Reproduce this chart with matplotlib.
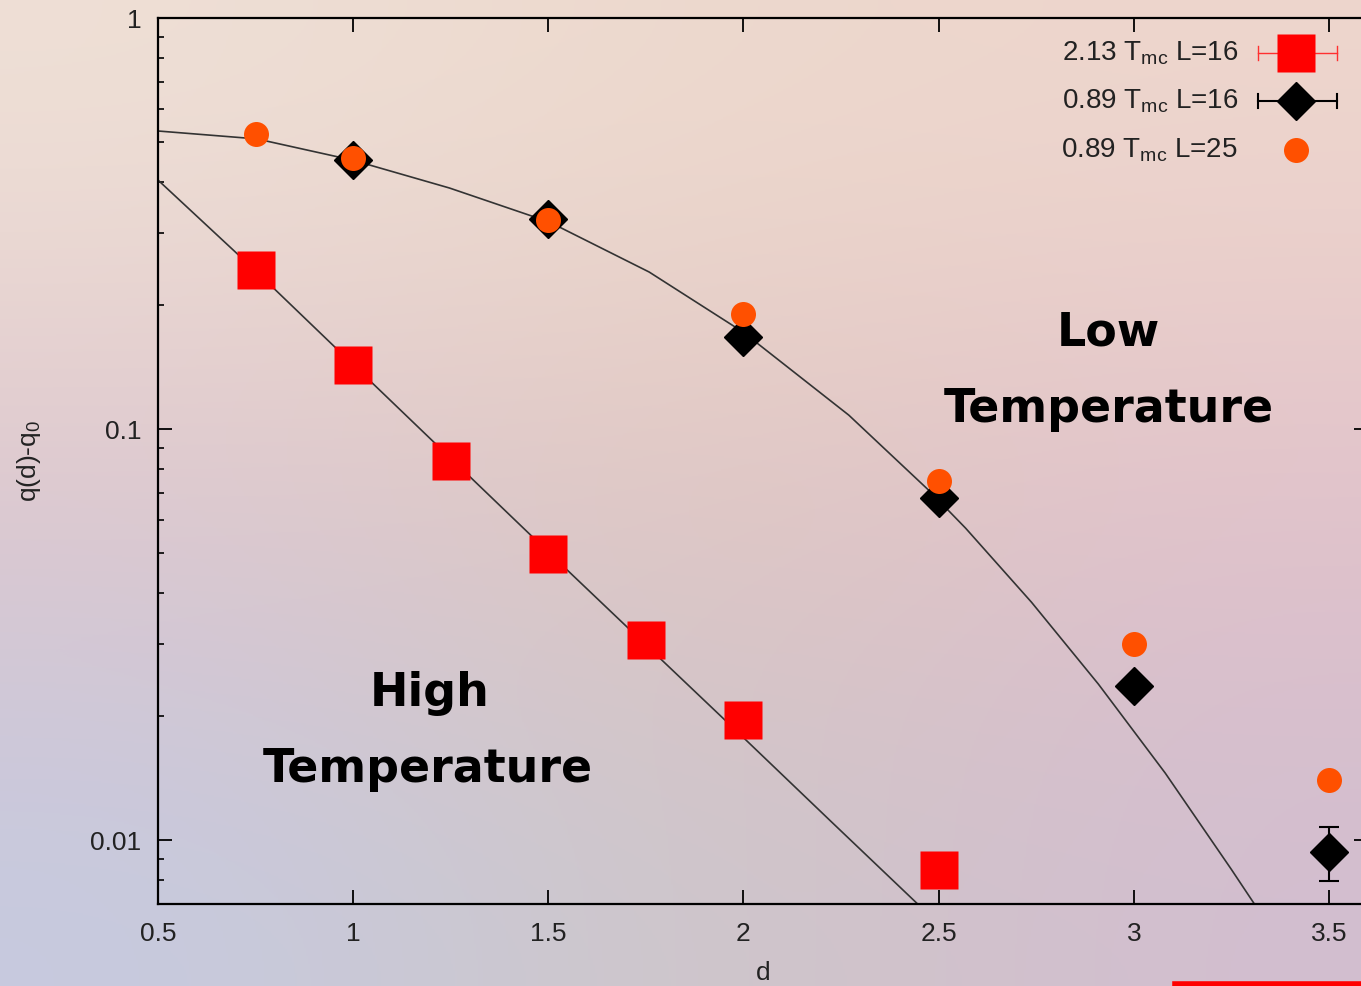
import numpy as np
import matplotlib
matplotlib.use('Agg')
import matplotlib.pyplot as plt
from matplotlib.lines import Line2D

plt.rcParams['font.family'] = ['Liberation Sans', 'DejaVu Sans']
plt.rcParams['mathtext.default'] = 'regular'

# data
d_high = [0.75, 1.0, 1.25, 1.5, 1.75, 2.0, 2.5]
q_high = [0.2437, 0.1431, 0.0836, 0.0496, 0.0307, 0.0196, 0.00845]

d_low16 = [1.0, 1.5, 2.0, 2.5, 3.0, 3.5]
q_low16 = [0.4514, 0.3243, 0.1674, 0.0679, 0.0237, 0.00935]
err_lo16 = [0, 0, 0, 0, 0, 0.00140]
err_hi16 = [0, 0, 0, 0, 0, 0.00140]

d_low25 = [0.75, 1.0, 1.5, 2.0, 2.5, 3.0, 3.5]
q_low25 = [0.522, 0.4564, 0.3225, 0.1905, 0.0747, 0.0300, 0.0140]

# fit curves
fit_high_d = [0.5, 0.7506, 1.0038, 1.252, 1.5, 1.7506, 2.0013, 2.226, 2.449]
fit_high_q = [0.4034, 0.2423, 0.1423, 0.0845, 0.0502, 0.0298, 0.0177, 0.01106, 0.00695]

fit_low_d = [0.5, 0.7532, 0.9987, 1.2468, 1.5026, 1.7583, 1.9987, 2.2698, 2.4744,
             2.569, 2.7379, 2.9092, 3.0806, 3.2494, 3.3107]
fit_low_q = [0.531, 0.508, 0.451, 0.3858, 0.3189, 0.2410, 0.1722, 0.1081, 0.0710,
             0.0574, 0.0379, 0.02396, 0.01455, 0.0085, 0.00695]

labels = ['2.13 T$_{mc}$ L=16', '0.89 T$_{mc}$ L=16', '0.89 T$_{mc}$ L=25']
x_ticks = [0.5, 1, 1.5, 2, 2.5, 3, 3.5]
x_ticklabels = ['0.5', '1', '1.5', '2', '2.5', '3', '3.5']
y_ticks = [0.01, 0.1, 1]
y_ticklabels = ['0.01', '0.1', '1']

W, H = 1361, 986
fig = plt.figure(figsize=(W / 100, H / 100), dpi=100)

# gradient background
bg = np.array([
    [[239, 224, 214], [237, 217, 205], [238, 214, 205]],
    [[222, 197, 205], [224, 198, 192], [226, 193, 202]],
    [[198, 202, 224], [206, 199, 199], [210, 190, 208]],
]) / 255.0
bg_ax = fig.add_axes([0, 0, 1, 1], zorder=-1)
bg_ax.imshow(bg, aspect='auto', interpolation='bicubic', extent=[0, 1, 0, 1])
bg_ax.axis('off')

left, right, top, bottom = 158, 1368, 18, 904
ax = fig.add_axes([left / W, (H - bottom) / H, (right - left) / W, (bottom - top) / H])
ax.set_facecolor('none')
ax.set_yscale('log')
ax.set_xlim(0.5, 3.6)
ax.set_ylim(0.00699, 1)

# fit lines
ax.plot(fit_low_d, fit_low_q, color='#333333', lw=1.2, zorder=2)
ax.plot(fit_high_d, fit_high_q, color='#333333', lw=1.2, zorder=2)

# data
ax.plot(d_high, q_high, 's', color='#ff0000', ms=27, mec='none', zorder=3)
ax.errorbar(d_low16, q_low16, yerr=[err_lo16, err_hi16], fmt='D', color='black',
            ms=19, capsize=7, elinewidth=1.5, capthick=1.5, zorder=3)
ax.plot(d_low25, q_low25, 'o', color='#ff5000', ms=18, mec='none', zorder=4)

# axes style
for s in ax.spines.values():
    s.set_linewidth(1.6)
ax.set_xticks(x_ticks)
ax.set_xticklabels(x_ticklabels)
ax.set_yticks(y_ticks)
ax.set_yticklabels(y_ticklabels)
ax.tick_params(which='major', direction='in', length=10, width=1.3, top=True, right=True,
               labelsize=19, labelcolor='#222222', pad=12)
ax.tick_params(which='minor', direction='in', length=4.5, width=1.2, right=True)
ax.tick_params(axis='x', pad=13)
ax.yaxis.set_minor_formatter(plt.NullFormatter())

ax.set_xlabel('d', fontsize=19, color='#222222', labelpad=11)
ax.set_ylabel('q(d)-q$_0$', fontsize=19, color='#222222', labelpad=34)

# region labels
big = dict(fontsize=33, fontweight='bold', family='DejaVu Sans', ha='center',
           va='baseline', color='black', zorder=5)
ax.text(1.196, 0.0212, 'High', **big)
ax.text(1.19, 0.01384, 'Temperature', **big)
ax.text(2.935, 0.160, 'Low', **big)
ax.text(2.935, 0.1040, 'Temperature', **big)

# legend drawn by hand, gnuplot style
tx, mx, ex0, ex1 = 0.8926, 0.9405, 0.909, 0.9744
rows = [0.9605, 0.9063, 0.851]
for lab, yy in zip(labels, rows):
    ax.text(tx, yy, lab, transform=ax.transAxes, ha='right', va='center',
            fontsize=20, color='#222222')
ax.plot([ex0, ex1], [rows[0]] * 2, color='#ff3030', lw=1, transform=ax.transAxes)
ax.plot([ex0, ex0], [rows[0] - 0.008, rows[0] + 0.008], color='#ff3030', lw=1, transform=ax.transAxes)
ax.plot([ex1, ex1], [rows[0] - 0.008, rows[0] + 0.008], color='#ff3030', lw=1, transform=ax.transAxes)
ax.plot([mx], [rows[0]], 's', color='#ff0000', ms=27, mec='none', transform=ax.transAxes)
ax.plot([ex0, ex1], [rows[1]] * 2, color='black', lw=1.5, transform=ax.transAxes)
ax.plot([ex0, ex0], [rows[1] - 0.008, rows[1] + 0.008], color='black', lw=1.5, transform=ax.transAxes)
ax.plot([ex1, ex1], [rows[1] - 0.008, rows[1] + 0.008], color='black', lw=1.5, transform=ax.transAxes)
ax.plot([mx], [rows[1]], 'D', color='black', ms=19, transform=ax.transAxes)
ax.plot([mx], [rows[2]], 'o', color='#ff5000', ms=18, mec='none', transform=ax.transAxes)

# red strip peeking in at the bottom right
fig.add_artist(Line2D([1175 / W, 1], [0.002, 0.002], color='#ff0000', lw=4))

fig.savefig('out.png', dpi=100)
